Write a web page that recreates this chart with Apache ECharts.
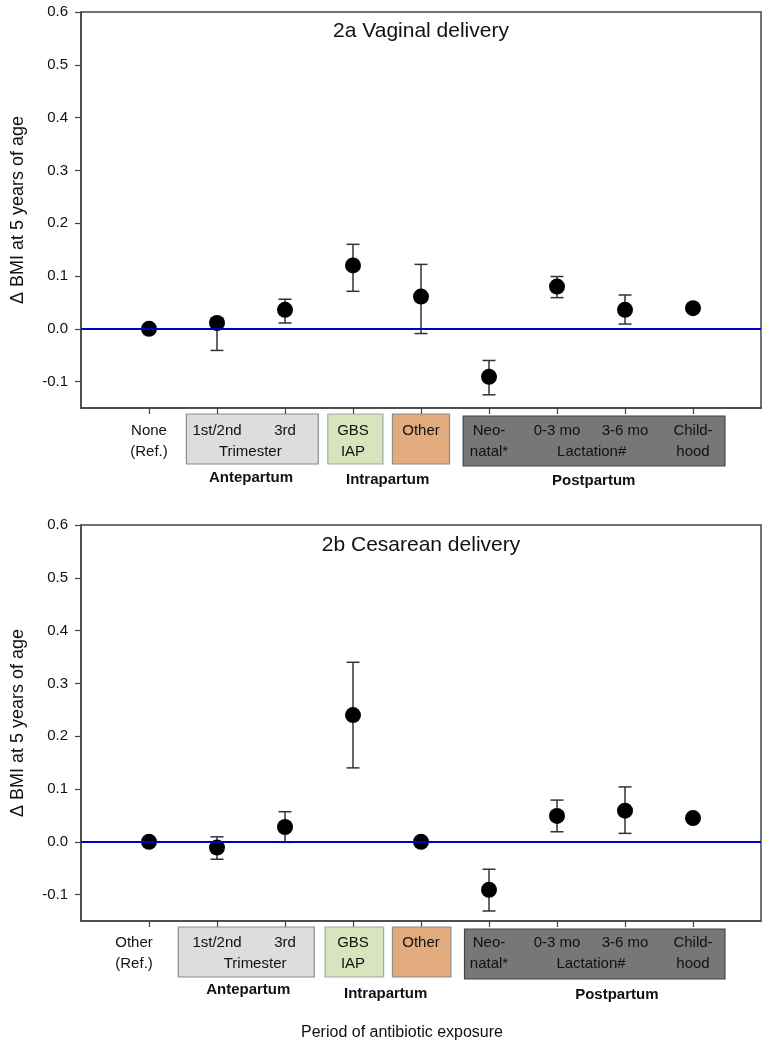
<!DOCTYPE html>
<html>
<head>
<meta charset="utf-8">
<style>
  html, body { margin: 0; padding: 0; background: #fff; }
  #main { width: 775px; height: 1050px; }
</style>
<script src="https://cdn.jsdelivr.net/npm/echarts@6.0.0/dist/echarts.min.js"></script>
</head>
<body>
<div id="main"></div>
<script>
// exposure periods, placed at x = 1..9
const positions = [1, 2, 3, 4, 5, 6, 7, 8, 9]
const topLabelsA = ['None', '1st/2nd', '3rd', 'GBS', 'Other', 'Neo-', '0-3 mo', '3-6 mo', 'Child-']
const topLabelsB = ['Other', '1st/2nd', '3rd', 'GBS', 'Other', 'Neo-', '0-3 mo', '3-6 mo', 'Child-']
const bottomLabels = ['(Ref.)', '', '', 'IAP', '', 'natal*', '', '', 'hood']
const groupLabels = ['Antepartum', 'Intrapartum', 'Postpartum']
const subLabels = ['Trimester', 'Lactation#']

// 2a vaginal delivery
const vaginalMean = [0, 0.011, 0.036, 0.12, 0.061, -0.091, 0.08, 0.036, 0.039]
const vaginalLow = [null, -0.041, 0.011, 0.071, -0.009, -0.125, 0.059, 0.009, null]
const vaginalHigh = [null, 0.02, 0.056, 0.16, 0.122, -0.06, 0.099, 0.064, null]

// 2b cesarean delivery
const cesareanMean = [0, -0.011, 0.028, 0.24, 0, -0.091, 0.049, 0.059, 0.045]
const cesareanLow = [null, -0.033, -0.001, 0.14, null, -0.131, 0.019, 0.016, null]
const cesareanHigh = [null, 0.0095, 0.057, 0.34, null, -0.052, 0.079, 0.104, null]

const yTicks = [-0.1, 0, 0.1, 0.2, 0.3, 0.4, 0.5, 0.6]

const FONT = "'Liberation Sans', Arial, sans-serif"
const Y_MIN = -0.15
const Y_MAX = 0.6

// label strip under each panel (x in axis units, dy in px below the plot)
const layoutA = {
  boxes: [
    { from: 1.55, to: 3.49, dy: 6, fill: '#dddddd', stroke: '#8c8c8c' },
    { from: 3.63, to: 4.44, dy: 6, fill: '#d7e4bd', stroke: '#a2a8a0' },
    { from: 4.58, to: 5.42, dy: 6, fill: '#e1ab7d', stroke: '#8c8c8c' },
    { from: 5.62, to: 9.47, dy: 8, fill: '#777777', stroke: '#444444' }
  ],
  refX: 1,
  row1: 23, row2: 44,
  subX: [2.49, 7.51],
  groupX: [2.5, 4.51, 7.54],
  groupDy: [70, 72, 73]
}
const layoutB = {
  boxes: [
    { from: 1.43, to: 3.43, dy: 6, fill: '#dddddd', stroke: '#8c8c8c' },
    { from: 3.59, to: 4.45, dy: 6, fill: '#d7e4bd', stroke: '#a2a8a0' },
    { from: 4.58, to: 5.44, dy: 6, fill: '#e1ab7d', stroke: '#8c8c8c' },
    { from: 5.64, to: 9.47, dy: 8, fill: '#777777', stroke: '#444444' }
  ],
  refX: 0.78,
  row1: 22, row2: 43,
  subX: [2.56, 7.5],
  groupX: [2.46, 4.48, 7.88],
  groupDy: [69, 73, 74]
}

function barData(low, high) {
  return positions
    .map((x, i) => (low[i] == null ? null : [x, low[i], high[i]]))
    .filter(Boolean)
}

function renderErrorBar(params, api) {
  const x = api.value(0)
  const lo = api.coord([x, api.value(1)])
  const hi = api.coord([x, api.value(2)])
  const cap = 6.5
  const style = { stroke: '#333', lineWidth: 1.5 }
  return {
    type: 'group',
    children: [
      { type: 'line', shape: { x1: hi[0], y1: hi[1], x2: lo[0], y2: lo[1] }, style },
      { type: 'line', shape: { x1: hi[0] - cap, y1: hi[1], x2: hi[0] + cap, y2: hi[1] }, style },
      { type: 'line', shape: { x1: lo[0] - cap, y1: lo[1], x2: lo[0] + cap, y2: lo[1] }, style }
    ]
  }
}

function labelStrip(layout, topLabels) {
  return function (params, api) {
    const base = api.coord([0, Y_MIN])[1]
    const px = (v) => api.coord([v, Y_MIN])[0]
    const children = []
    layout.boxes.forEach((b) => {
      const x1 = px(b.from)
      const x2 = px(b.to)
      children.push({
        type: 'rect',
        shape: { x: x1, y: base + b.dy, width: x2 - x1, height: 50 },
        style: { fill: b.fill, stroke: b.stroke, lineWidth: 1.2 }
      })
    })
    const txt = (text, x, y, bold) => ({
      type: 'text',
      style: {
        text, x, y,
        font: (bold ? 'bold ' : '') + '15px ' + FONT,
        fill: '#111',
        align: 'center',
        verticalAlign: 'middle'
      }
    })
    positions.forEach((p, i) => {
      const x = px(i === 0 ? layout.refX : p)
      children.push(txt(topLabels[i], x, base + layout.row1))
      if (bottomLabels[i]) children.push(txt(bottomLabels[i], x, base + layout.row2))
    })
    subLabels.forEach((s, i) => children.push(txt(s, px(layout.subX[i]), base + layout.row2)))
    groupLabels.forEach((g, i) => children.push(txt(g, px(layout.groupX[i]), base + layout.groupDy[i], true)))
    return { type: 'group', children }
  }
}

function xAxisFor(gridIndex) {
  return {
    type: 'value',
    gridIndex,
    min: 0,
    max: 10,
    axisLine: { show: true, onZero: false, lineStyle: { color: '#444', width: 1.5 } },
    axisTick: { show: true, customValues: positions, length: 6, lineStyle: { color: '#444', width: 1.2 } },
    axisLabel: { show: false },
    splitLine: { show: false }
  }
}

function yAxisFor(gridIndex) {
  return {
    type: 'value',
    gridIndex,
    min: Y_MIN,
    max: Y_MAX,
    name: 'Δ BMI at 5 years of age',
    nameLocation: 'middle',
    nameGap: 54,
    nameTextStyle: { fontSize: 18, color: '#111', fontFamily: FONT },
    axisLine: { show: true, onZero: false, lineStyle: { color: '#444', width: 1.5 } },
    axisTick: { show: true, customValues: yTicks, length: 6, lineStyle: { color: '#444', width: 1.2 } },
    axisLabel: {
      customValues: yTicks,
      margin: 13,
      fontSize: 15,
      color: '#111',
      fontFamily: FONT,
      formatter: (v) => v.toFixed(1)
    },
    splitLine: { show: false }
  }
}

function panelSeries(idx, mean, low, high, layout, topLabels) {
  return [
    {
      type: 'custom',
      xAxisIndex: idx,
      yAxisIndex: idx,
      silent: true,
      z: 1,
      renderItem: labelStrip(layout, topLabels),
      data: [[0, 0]]
    },
    {
      type: 'scatter',
      xAxisIndex: idx,
      yAxisIndex: idx,
      silent: true,
      z: 2,
      symbolSize: 0,
      data: [],
      markLine: {
        silent: true,
        symbol: 'none',
        label: { show: false },
        lineStyle: { color: '#0000cc', width: 2, type: 'solid' },
        data: [{ yAxis: 0 }]
      }
    },
    {
      type: 'custom',
      xAxisIndex: idx,
      yAxisIndex: idx,
      silent: true,
      z: 3,
      renderItem: renderErrorBar,
      data: barData(low, high)
    },
    {
      type: 'scatter',
      xAxisIndex: idx,
      yAxisIndex: idx,
      silent: true,
      z: 4,
      symbol: 'circle',
      symbolSize: 16,
      itemStyle: { color: '#000', opacity: 1 },
      data: positions.map((x, i) => [x, mean[i]])
    }
  ]
}

const myChart = echarts.init(document.getElementById('main'))
myChart.setOption({
  backgroundColor: '#fff',
  animation: false,
  title: [
    {
      text: '2a Vaginal delivery',
      left: 421, top: 21, textAlign: 'center', padding: 0,
      textStyle: { fontSize: 21, fontWeight: 'normal', color: '#111', fontFamily: FONT }
    },
    {
      text: '2b Cesarean delivery',
      left: 421, top: 535, textAlign: 'center', padding: 0,
      textStyle: { fontSize: 21, fontWeight: 'normal', color: '#111', fontFamily: FONT }
    }
  ],
  grid: [
    { left: 81, top: 12, width: 680, height: 396, show: true, borderColor: '#444', borderWidth: 1.5, backgroundColor: 'transparent' },
    { left: 81, top: 525, width: 680, height: 396, show: true, borderColor: '#444', borderWidth: 1.5, backgroundColor: 'transparent' }
  ],
  xAxis: [xAxisFor(0), xAxisFor(1)],
  yAxis: [yAxisFor(0), yAxisFor(1)],
  graphic: [
    {
      type: 'text',
      x: 402,
      y: 1033,
      style: {
        text: 'Period of antibiotic exposure',
        font: '16px ' + FONT,
        fill: '#111',
        align: 'center',
        verticalAlign: 'middle'
      }
    }
  ],
  series: [
    ...panelSeries(0, vaginalMean, vaginalLow, vaginalHigh, layoutA, topLabelsA),
    ...panelSeries(1, cesareanMean, cesareanLow, cesareanHigh, layoutB, topLabelsB)
  ]
})
</script>
</body>
</html>
